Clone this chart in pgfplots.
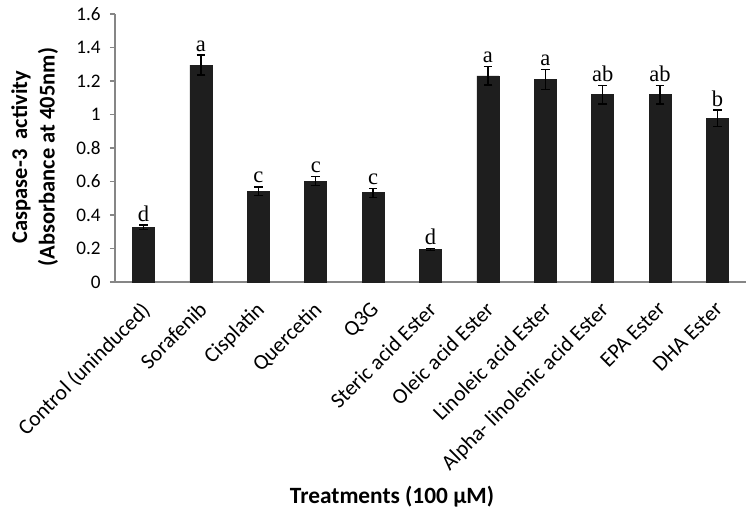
\documentclass[border=0pt]{standalone}
\usepackage{pgfplots}
\pgfplotsset{compat=1.18}
\usepackage{pgfplotstable}
\usepackage{fontspec}
\setmainfont{Carlito}
\newfontfamily\letterfont{Liberation Serif}

\definecolor{barfill}{HTML}{1E1E1E}
\definecolor{axgray}{HTML}{868686}

% x  value  error  letter
\pgfplotstableread{
x y err lab
0 0.328 0.013 d
1 1.295 0.060 a
2 0.543 0.025 c
3 0.603 0.025 c
4 0.533 0.027 c
5 0.195 0.005 d
6 1.230 0.055 a
7 1.210 0.060 a
8 1.118 0.055 ab
9 1.118 0.055 ab
10 0.977 0.050 b
}\caspase

\begin{document}
\begin{tikzpicture}
\begin{axis}[
    scale only axis,
    width=378.6pt, height=160.8pt,
    xmin=-0.5, xmax=10.5,
    ymin=0, ymax=1.6,
    ytick={0,0.2,...,1.6},
    xtick={0,...,10},
    xticklabels={Control (uninduced), Sorafenib, Cisplatin, Quercetin, Q3G,
      Steric acid Ester, Oleic acid Ester, Linoleic acid Ester,
      Alpha- linolenic acid Ester, EPA Ester, DHA Ester},
    x tick label style={rotate=45, anchor=north east, font=\fontsize{13}{15}\selectfont,
      inner sep=1pt, yshift=-3pt, xshift=-6pt},
    y tick label style={font=\fontsize{11.5}{13}\selectfont, xshift=-2pt},
    /pgf/number format/assume math mode=true,
    axis lines*=left,
    axis line style={axgray, line width=0.8pt},
    major x tick style={draw=none},
    major y tick style={axgray, line width=0.8pt},
    tick align=outside,
    major tick length=3pt,
    clip=false,
    ylabel={Caspase-3~~activity\\(Absorbance at 405nm)},
    ylabel style={align=center, font=\bfseries\fontsize{13.5}{16.5}\selectfont,
      at={(axis description cs:-0.127,0.466)}, anchor=center},
    xlabel={Treatments (100 µM)},
    xlabel style={font=\bfseries\fontsize{14}{16}\selectfont,
      at={(axis description cs:0.439,-0.80)}, anchor=center},
]
\addplot[ybar, bar width=13.2pt, fill=barfill, draw=barfill,
    error bars/.cd, y dir=both, y explicit,
    error bar style={black, line width=0.8pt},
    error mark options={rotate=90, mark size=2.6pt, line width=0.8pt, black}]
  table[x=x, y=y, y error=err] {\caspase};
\addplot[draw=none, mark=none, nodes near coords, point meta=explicit symbolic,
    nodes near coords style={anchor=south, font=\letterfont\fontsize{13.5}{15}\selectfont, inner sep=2pt}]
  table[x=x, y expr=\thisrow{y}+\thisrow{err}, meta=lab] {\caspase};
\path (rel axis cs:-0.182,-0.910) rectangle (rel axis cs:1.014,1.052);
\end{axis}
\end{tikzpicture}
\end{document}
